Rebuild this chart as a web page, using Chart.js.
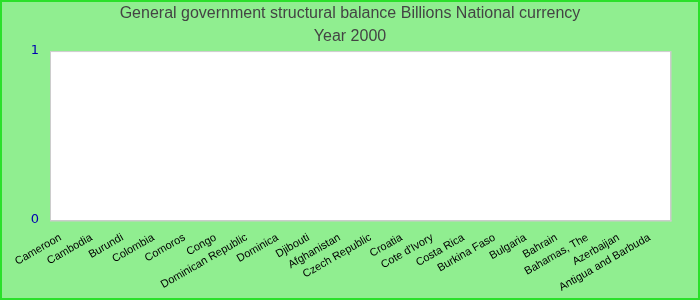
<!DOCTYPE html>
<html lang="en">

<head>
    <meta charset="UTF-8">
    <title>General government structural balance</title>
    <script src="https://cdn.jsdelivr.net/npm/chart.js"></script>
    <style>
        body { margin: 0; background: #90ee90; }
        #grafico { display: block; }
    </style>
</head>

<body>
    <canvas id="grafico" width="700" height="300"></canvas>

    <script>
        // dados (nenhuma barra visivel no ano 2000)
        const paises = ['Cameroon', 'Cambodia', 'Burundi', 'Colombia', 'Comoros', 'Congo',
            'Dominican Republic', 'Dominica', 'Djibouti', 'Afghanistan', 'Czech Republic',
            'Croatia', "Cote d'Ivory", 'Costa Rica', 'Burkina Faso', 'Bulgaria', 'Bahrain',
            'Bahamas, The', 'Azerbaijan', 'Antigua and Barbuda'];
        const valores = [0, 0, 0, 0, 0, 0, 0, 0, 0, 0, 0, 0, 0, 0, 0, 0, 0, 0, 0, 0];
        const titulo = ['General government structural balance Billions National currency', 'Year 2000'];
        const yMin = 0;
        const yMax = 1;

        // fundo verde, area branca e bordas
        const fundo = {
            id: 'fundo',
            beforeDraw(chart) {
                const ctx = chart.ctx;
                const a = chart.chartArea;
                ctx.save();
                ctx.fillStyle = '#90ee90';
                ctx.fillRect(0, 0, chart.width, chart.height);
                ctx.strokeStyle = '#2be02b';
                ctx.lineWidth = 2;
                ctx.strokeRect(1, 1, chart.width - 2, chart.height - 2);
                ctx.fillStyle = '#ffffff';
                ctx.fillRect(a.left, a.top, a.right - a.left, a.bottom - a.top);
                ctx.strokeStyle = '#cccccc';
                ctx.lineWidth = 1;
                ctx.strokeRect(a.left + 0.5, a.top + 0.5, a.right - a.left, a.bottom - a.top);
                ctx.fillStyle = '#cccccc';
                ctx.fillRect(a.right, a.top, 1.5, a.bottom - a.top + 1.5);
                ctx.fillRect(a.left, a.bottom, a.right - a.left + 1.5, 1.5);
                ctx.restore();
            }
        };

        const data = {
            labels: paises,
            datasets: [
                {
                    label: 'Billions National currency',
                    data: valores,
                    backgroundColor: '#3366cc',
                    borderWidth: 0
                }
            ]
        };

        const config = {
            type: 'bar',
            data: data,
            options: {
                responsive: false,
                animation: false,
                layout: {
                    padding: 0
                },
                plugins: {
                    legend: { display: false },
                    tooltip: { enabled: false },
                    title: {
                        display: true,
                        text: titulo,
                        color: '#444444',
                        font: { family: 'Liberation Sans, Arial, sans-serif', size: 16, weight: 'normal', lineHeight: 1.44 },
                        padding: { top: 2, bottom: 3 }
                    }
                },
                scales: {
                    x: {
                        grid: { display: false },
                        border: { display: false },
                        ticks: {
                            autoSkip: false,
                            maxRotation: 30,
                            minRotation: 30,
                            labelOffset: -5,
                            color: '#000000',
                            font: { family: 'Liberation Sans, Arial, sans-serif', size: 11 }
                        },
                        afterFit(scale) { scale.height = 80; }
                    },
                    y: {
                        min: yMin,
                        max: yMax,
                        grid: { display: false },
                        border: { display: false },
                        ticks: {
                            stepSize: 1,
                            padding: 3,
                            color: '#0000b0',
                            font: { family: 'DejaVu Sans, sans-serif', size: 13 }
                        },
                        afterFit(scale) { scale.width = 50; }
                    },
                    // eixo vazio a direita so para dar a margem
                    margem: {
                        position: 'right',
                        grid: { display: false },
                        border: { display: false },
                        ticks: { display: false },
                        afterFit(scale) { scale.width = 30; }
                    }
                }
            },
            plugins: [fundo]
        };

        let myChart = new Chart(
            document.getElementById('grafico'),
            config
        );
    </script>
</body>

</html>
